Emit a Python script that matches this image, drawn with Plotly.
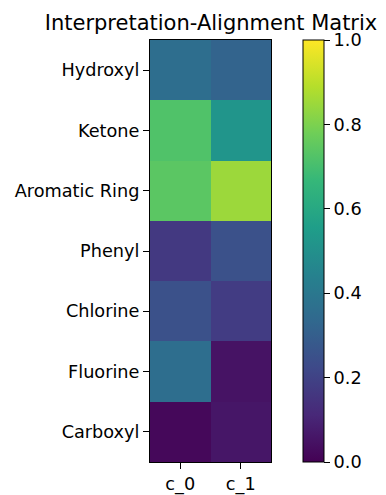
import plotly.graph_objects as go

features = ["Hydroxyl", "Ketone", "Aromatic Ring", "Phenyl", "Chlorine", "Fluorine", "Carboxyl"]
components = ["c_0", "c_1"]
c_0 = [0.36, 0.72, 0.74, 0.17, 0.25, 0.36, 0.02]
c_1 = [0.32, 0.52, 0.85, 0.25, 0.18, 0.05, 0.06]
cbar_ticks = [0.0, 0.2, 0.4, 0.6, 0.8, 1.0]

z = [[a, b] for a, b in zip(c_0, c_1)]

FONT = "DejaVu Sans"
W, H = 386, 495
L, R, T, B = 150, 271, 40, 462
TICK = 17.7

fig = go.Figure(go.Heatmap(
    z=z, x=components, y=features,
    colorscale="Viridis", zmin=0, zmax=1,
    colorbar=dict(
        x=(303 - L) / (R - L), xanchor="left", xref="paper", xpad=0,
        y=0.5, yanchor="middle", ypad=0, len=1, lenmode="fraction",
        thickness=21, thicknessmode="pixels",
        outlinewidth=1, outlinecolor="black",
        ticks="outside", ticklen=6, tickwidth=1, tickcolor="black",
        tickvals=cbar_ticks, tickformat=".1f",
        tickfont=dict(family=FONT, size=TICK, color="black"),
    ),
))

fig.update_layout(
    width=W, height=H,
    margin=dict(l=L, r=W - R, t=T, b=H - B, pad=0, autoexpand=False),
    paper_bgcolor="white", plot_bgcolor="white",
    title=dict(text="Interpretation-Alignment Matrix",
               font=dict(family=FONT, size=21, color="black"),
               x=211 / W, xanchor="center", xref="container",
               y=1 - 23 / H, yanchor="middle", yref="container"),
    font=dict(family=FONT, color="black"),
)
fig.update_xaxes(showline=True, linecolor="black", linewidth=1, mirror=True,
                 ticks="outside", ticklen=6, tickcolor="black", automargin=False,
                 tickfont=dict(family=FONT, size=TICK, color="black"), showgrid=False)
fig.update_yaxes(autorange="reversed", showline=True, linecolor="black", linewidth=1, mirror=True,
                 ticks="outside", ticklen=6, tickcolor="black", automargin=False,
                 tickfont=dict(family=FONT, size=TICK, color="black"), showgrid=False)

fig.write_html("out.html", config={"displayModeBar": False},
               post_script="document.body.style.margin='0';")
